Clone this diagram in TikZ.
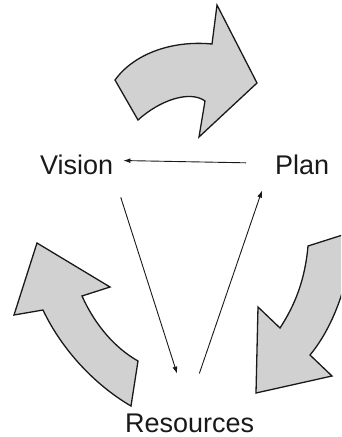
\documentclass[tikz,border=0pt]{standalone}
\usepackage{fontspec}
\setmainfont{Liberation Sans}
\usetikzlibrary{arrows.meta}
\tikzset{
  word/.style={inner sep=0pt, anchor=base west, text=black!90, font=\fontsize{27}{30}\selectfont},
  bigarrow/.style={draw=black!90, fill=black!18, line width=1.3pt, line join=miter},
  flow/.style={draw=black!90, line width=0.9pt, -{Latex[length=7pt, width=5pt]}}
}

\begin{document}
\begin{tikzpicture}[x=1pt, y=-1pt]
  \useasboundingbox (0,0) rectangle (341,437);
  \clip (0,0) rectangle (341,437);
  \node[word] (vision) at (40,174) {Vision};
  \node[word] (plan) at (275,174) {Plan};
  \node[word] (resources) at (125,432) {Resources};
  \draw[bigarrow] (115,80) -- (138,120) .. controls (160,100) and (190,90) .. (205,101)
    -- (199,137) -- (257,83) -- (217,5) -- (212,44) .. controls (170,40) and (133,55) .. (115,80) -- cycle;
  \draw[bigarrow] (37,243) -- (110,287) -- (82,296) .. controls (95,325) and (115,348) .. (138,361)
    -- (131,406) .. controls (95,385) and (62,350) .. (43,310) -- (14,315) -- cycle;
  \draw[bigarrow] (308,246) -- (352,232) .. controls (352,275) and (335,325) .. (310,355)
    -- (332,376) -- (256,393) -- (258,307) -- (280,328) .. controls (295,305) and (305,280) .. (308,246) -- cycle;
  \draw[flow, shorten <=29pt, shorten >=10pt] ([yshift=1pt]plan.west) -- ([yshift=4pt]vision.east);
  \draw[flow, shorten <=24pt, shorten >=41.6pt] (vision.south east) -- (resources.north);
  \draw[flow, shorten <=42pt, shorten >=17pt] ([xshift=-4pt]resources.north) -- ([xshift=-7.5pt]plan.south west);
\end{tikzpicture}
\end{document}
